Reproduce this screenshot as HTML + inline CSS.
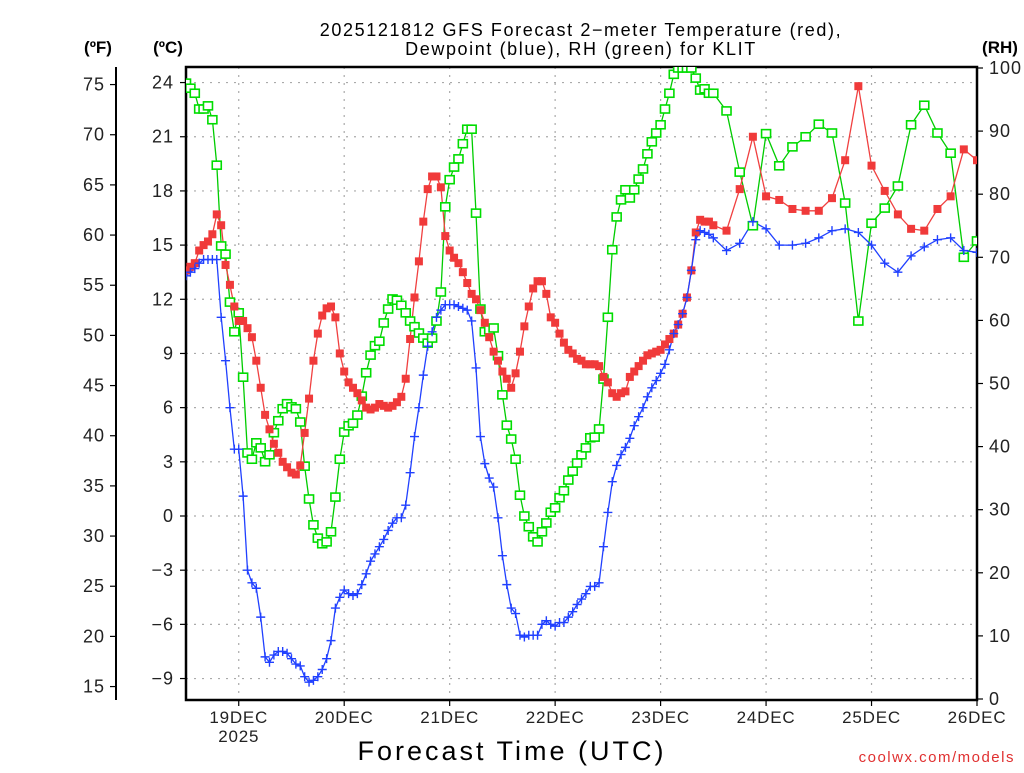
<!DOCTYPE html>
<html><head><meta charset="utf-8">
<style>
body{margin:0;background:#fff;}
svg text{font-family:"Liberation Sans",sans-serif;}
</style></head>
<body>
<svg id="chart" width="1024" height="768" viewBox="0 0 1024 768" xmlns="http://www.w3.org/2000/svg">
<rect x="0" y="0" width="1024" height="768" fill="#fff"/>
<text x="581" y="36" font-size="18" text-anchor="middle" fill="#000" letter-spacing="1.6">2025121812 GFS Forecast 2−meter Temperature (red),</text>
<text x="581" y="55" font-size="18" text-anchor="middle" fill="#000" letter-spacing="1.6">Dewpoint (blue), RH (green) for KLIT</text>
<text x="98" y="53" font-size="17" font-weight="bold" text-anchor="middle">(ºF)</text>
<text x="168" y="53" font-size="17" font-weight="bold" text-anchor="middle">(ºC)</text>
<text x="1000" y="53" font-size="17" font-weight="bold" text-anchor="middle">(RH)</text>
<text x="512" y="760" font-size="27" text-anchor="middle" letter-spacing="3">Forecast Time (UTC)</text>
<text x="1015" y="762" font-size="15" text-anchor="end" fill="#e03030" letter-spacing="1.5">coolwx.com/models</text>
<g id="grid"></g>
<g id="axes"></g>
<g id="series"></g>
</svg>
<script>
// Forecast hours: hourly to 120, then 3-hourly to 180 (from 2025-12-18 12Z)
const hourlySteps = 120;
const threeHourlyEnd = 180;
// Temperature (°C), dewpoint (°C), RH (%)
const tempC = [13.6,13.8,14.0,14.7,15.0,15.2,15.6,16.7,16.1,13.9,12.8,11.6,10.8,10.8,10.4,9.9,8.6,7.1,5.6,4.8,
4.0,3.5,3.0,2.7,2.4,2.3,2.8,4.6,6.5,8.6,10.1,11.1,11.5,11.6,11.0,9.0,8.0,7.4,7.1,6.8,
6.4,6.0,5.9,6.0,6.2,6.1,6.0,6.1,6.3,6.6,7.6,9.8,12.1,14.1,16.3,18.1,18.8,18.8,18.2,15.5,
14.7,14.3,14.0,13.5,12.9,12.3,12.0,11.4,10.7,9.9,9.1,8.6,8.0,7.6,7.1,7.9,9.1,10.5,11.6,12.6,
13.0,13.0,12.3,11.0,10.7,10.1,9.6,9.2,9.0,8.7,8.6,8.4,8.4,8.4,8.3,7.7,7.4,6.8,6.6,6.8,
6.9,7.7,8.0,8.3,8.6,8.9,9.0,9.1,9.2,9.5,9.8,10.1,10.6,11.2,12.1,13.6,15.7,16.4,16.3,16.3,
16.1,
15.8,18.1,21.0,17.7,17.5,17.0,16.9,16.9,17.6,19.7,23.8,19.4,18.0,16.7,15.9,15.8,17.0,17.7,20.3,19.7];
const dewC = [13.3,13.5,13.7,14.0,14.2,14.2,14.2,14.2,11.0,8.6,6.0,3.7,3.7,1.1,-3.0,-3.7,-4.0,-5.6,-7.8,-8.1,
-7.7,-7.5,-7.5,-7.6,-7.9,-8.2,-8.3,-8.9,-9.2,-9.1,-8.9,-8.5,-7.9,-6.9,-5.1,-4.5,-4.1,-4.3,-4.4,-4.3,
-3.8,-3.2,-2.5,-2.1,-1.7,-1.3,-0.8,-0.4,-0.1,-0.1,0.6,2.4,4.4,6.0,7.8,9.4,10.2,11.0,11.4,11.7,
11.7,11.7,11.6,11.5,11.4,10.8,8.2,4.4,2.9,2.1,1.6,-0.1,-2.2,-3.8,-5.1,-5.4,-6.6,-6.7,-6.6,-6.6,
-6.6,-6.0,-5.8,-6.0,-6.1,-5.9,-5.9,-5.6,-5.3,-4.9,-4.6,-4.3,-3.9,-3.9,-3.7,-1.7,0.2,1.9,2.8,3.4,
3.8,4.3,5.0,5.5,6.0,6.6,7.1,7.5,7.9,8.4,9.2,10.1,10.6,11.2,12.1,13.6,15.3,15.8,15.7,15.6,
15.4,
14.7,15.1,16.3,15.9,15.0,15.0,15.1,15.4,15.8,15.9,15.7,15.0,14.0,13.5,14.4,14.9,15.3,15.4,14.7,14.6];
const rhPct = [97.6,96.8,96.0,93.5,93.5,94.0,91.8,84.6,71.8,70.5,62.9,58.2,61.2,51.0,39.0,38.0,40.6,39.8,37.6,38.7,
42.2,44.1,46.0,46.8,46.3,46.0,43.9,36.9,31.7,27.6,25.5,24.6,24.9,26.5,32.0,38.0,42.3,43.3,43.7,45.0,
48.0,51.7,54.5,56.0,56.7,59.6,61.8,63.4,63.2,62.4,61.2,59.9,59.0,58.0,57.2,56.4,57.2,59.9,64.5,78.0,
82.3,84.3,85.6,88.0,90.3,90.3,77.0,61.8,58.2,58.5,58.8,54.4,48.2,43.4,41.2,38.0,32.3,29.0,27.3,25.7,
24.9,26.5,27.9,29.6,30.3,31.9,33.0,34.7,36.1,37.4,38.7,39.8,41.4,41.5,42.8,50.7,60.5,71.2,76.4,79.1,
80.7,79.4,80.7,82.4,84.0,86.4,88.3,89.7,91.0,93.5,96.0,99.0,100,100,100,100,98.4,96.5,96.7,96.0,
96.0,
93.2,83.5,75.0,89.6,84.5,87.5,89.1,91.1,89.7,78.6,59.9,75.4,77.8,81.3,91.0,94.1,89.7,86.5,70.0,72.6];
const cTicks = [-9,-6,-3,0,3,6,9,12,15,18,21,24];
const fTicks = [15,20,25,30,35,40,45,50,55,60,65,70,75];
const rhTicks = [0,10,20,30,40,50,60,70,80,90,100];
const dayLabels = ["19DEC","20DEC","21DEC","22DEC","23DEC","24DEC","25DEC","26DEC"];
const dayHours = [12,36,60,84,108,132,156,180];

const hours = [];
for (let h = 0; h <= hourlySteps; h++) hours.push(h);
for (let h = hourlySteps + 3; h <= threeHourlyEnd; h += 3) hours.push(h);

const X0 = 186, X1 = 977, YT = 67, YB = 700;
const xS = h => X0 + (X1 - X0) * h / 180;
const yC = c => 516 - c * 18.06;
const yF = f => yC((f - 32) * 5 / 9);
const yRH = r => YB - 1 - r * 6.31;
const NS = "http://www.w3.org/2000/svg";
function mk(tag, attrs, parent) {
  const e = document.createElementNS(NS, tag);
  for (const k in attrs) e.setAttribute(k, attrs[k]);
  parent.appendChild(e);
  return e;
}
const grid = document.getElementById('grid');
const axes = document.getElementById('axes');
const series = document.getElementById('series');

cTicks.forEach(c => {
  const l = mk('line', {x1: X0, x2: X1, y1: yC(c), y2: yC(c), stroke: '#aaa', 'stroke-width': 1.2, 'stroke-dasharray': '2,6'}, grid);
  
  
});
dayHours.forEach(h => {
  const l = mk('line', {x1: xS(h), x2: xS(h), y1: YT, y2: YB, stroke: '#aaa', 'stroke-width': 1.2, 'stroke-dasharray': '2,6'}, grid);
  
  
});

const frame = mk('rect', {x: X0, y: YT, width: X1 - X0, height: YB - YT, fill: 'none', stroke: '#000', 'stroke-width': 2.5}, axes);


const fAxis = mk('line', {x1: 116, x2: 116, y1: YT, y2: YB, stroke: '#000', 'stroke-width': 2}, axes);



fTicks.forEach(f => {
  const y = yF(f);
  const t = mk('line', {x1: 110, x2: 116, y1: y, y2: y, stroke: '#000', 'stroke-width': 1.2}, axes);
  
  
  const tx = mk('text', {x: 105, y: y + 6, 'font-size': 18, 'text-anchor': 'end', fill: '#222', 'letter-spacing': 1}, axes);
  tx.textContent = f;
  
  
});
cTicks.forEach(c => {
  const y = yC(c);
  const t = mk('line', {x1: 180, x2: X0, y1: y, y2: y, stroke: '#000', 'stroke-width': 1.2}, axes);
  
  
  const tx = mk('text', {x: 174, y: y + 6, 'font-size': 18, 'text-anchor': 'end', fill: '#222', 'letter-spacing': 1}, axes);
  tx.textContent = c < 0 ? '−' + Math.abs(c) : c;
  
  
});
rhTicks.forEach(r => {
  const y = yRH(r);
  const t = mk('line', {x1: X1, x2: X1 + 6, y1: y, y2: y, stroke: '#000', 'stroke-width': 1.2}, axes);
  
  
  const tx = mk('text', {x: 989, y: y + 6, 'font-size': 18, 'text-anchor': 'start', fill: '#222', 'letter-spacing': 1}, axes);
  tx.textContent = r;
  
  
});
dayHours.forEach((h, i) => {
  const x = xS(h);
  const t = mk('line', {x1: x, x2: x, y1: YB, y2: YB + 6, stroke: '#000', 'stroke-width': 1.2}, axes);
  
  
  const tx = mk('text', {x: x, y: 723, 'font-size': 17, 'text-anchor': 'middle', fill: '#222', 'letter-spacing': 0.8}, axes);
  tx.textContent = dayLabels[i];
  
  
});
const yr = mk('text', {x: xS(12), y: 742, 'font-size': 17, 'text-anchor': 'middle', fill: '#222', 'letter-spacing': 0.8}, axes);
yr.textContent = '2025';



function drawLine(vals, yf, color, name) {
  const pts = vals.map((v, i) => xS(hours[i]).toFixed(1) + ',' + yf(v).toFixed(1)).join(' ');
  const p = mk('polyline', {points: pts, fill: 'none', stroke: color, 'stroke-width': 1.3}, series);
  
  
}
const clip = mk('clipPath', {id: 'pc'}, document.getElementById('chart'));
mk('rect', {x: X0, y: YT, width: X1 - X0, height: YB - YT}, clip);
series.setAttribute('clip-path', 'url(#pc)');

drawLine(rhPct, yRH, '#00cc00', 'rh-line');
drawLine(tempC, yC, '#f04040', 'temperature-line');
drawLine(dewC, yC, '#2040ff', 'dewpoint-line');

rhPct.forEach((v, i) => {
  const m = mk('rect', {x: xS(hours[i]) - 4.5, y: yRH(v) - 4, width: 9, height: 8, fill: '#fff', stroke: '#00dd00', 'stroke-width': 1.6}, series);
  
  
});
tempC.forEach((v, i) => {
  const m = mk('rect', {x: xS(hours[i]) - 4, y: yC(v) - 4, width: 8, height: 8, fill: '#f03a3a'}, series);
  
  
});
dewC.forEach((v, i) => {
  const x = xS(hours[i]), y = yC(v);
  const m = mk('path', {d: `M${x - 4.5},${y}H${x + 4.5}M${x},${y - 4.5}V${y + 4.5}`, stroke: '#2040ff', 'stroke-width': 1.4, fill: 'none'}, series);
  
  
});
</script>
</body></html>
